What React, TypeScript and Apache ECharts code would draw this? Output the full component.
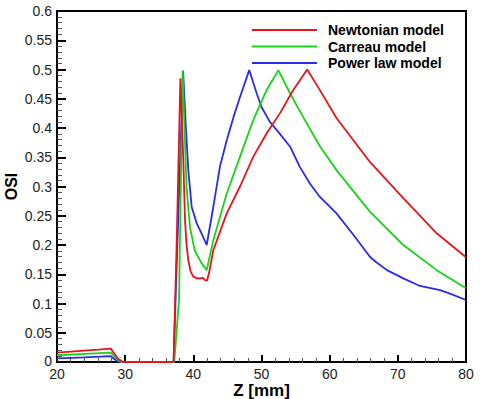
import React, { useEffect, useRef } from "react";
import * as echarts from "echarts";

const seriesNames = ["Newtonian model", "Carreau model", "Power law model"];
const seriesColors = ["#e8141b", "#18d418", "#2a2af0"];

const newtonian: [number, number][] = [
  [20, 0.016], [22, 0.0178], [24, 0.0195], [26, 0.021], [27.9, 0.023], [28.3, 0.016], [29, 0.005], [29.7, 0],
  [37.1, 0], [37.55, 0.2], [38.1, 0.485], [38.3, 0.42], [38.53, 0.345], [38.78, 0.243], [39.0, 0.2],
  [39.26, 0.174], [39.6, 0.155], [40, 0.146], [40.5, 0.143], [41, 0.143], [41.4, 0.144], [41.7, 0.14],
  [42.0, 0.139], [42.3, 0.152], [42.93, 0.191], [44.9, 0.254], [46.85, 0.3], [48.8, 0.351], [50.76, 0.391],
  [52.7, 0.425], [54.66, 0.465], [56.7, 0.5], [58.5, 0.466], [61, 0.417], [65.9, 0.342], [70.8, 0.28],
  [75.7, 0.22], [80, 0.179],
];

const carreau: [number, number][] = [
  [20, 0.0115], [24, 0.0138], [27.9, 0.016], [28.3, 0.011], [29, 0.003], [29.5, 0],
  [37.2, 0], [37.9, 0.106], [38.43, 0.498], [38.78, 0.374], [39.0, 0.3], [39.5, 0.231], [40.2, 0.191],
  [41.2, 0.169], [41.96, 0.157], [42.93, 0.208], [44.9, 0.288], [46.85, 0.351], [48.8, 0.414],
  [50.76, 0.465], [52.47, 0.499], [54.2, 0.459], [56.1, 0.419], [58.5, 0.37], [61, 0.328], [65.9, 0.257],
  [70.8, 0.2], [75.7, 0.157], [80, 0.126],
];

const powerLaw: [number, number][] = [
  [20, 0.0063], [24, 0.008], [27.9, 0.01], [28.3, 0.006], [28.9, 0.001], [29.3, 0],
  [37.1, 0], [37.4, 0.11], [38.5, 0.498], [38.9, 0.402], [39.26, 0.328], [39.76, 0.265], [40.5, 0.237],
  [41.2, 0.22], [41.96, 0.2], [42.93, 0.265], [43.9, 0.334], [44.9, 0.379], [45.9, 0.419], [46.85, 0.453],
  [48.2, 0.499], [49.3, 0.459], [50, 0.436], [51.25, 0.41], [52.7, 0.39], [54.2, 0.368], [55.6, 0.334],
  [57.1, 0.305], [58.5, 0.283], [61, 0.254], [63.5, 0.217], [65.9, 0.18], [66.8, 0.171], [68.4, 0.157],
  [70.8, 0.143], [73.25, 0.13], [76.2, 0.123], [77.65, 0.117], [80, 0.106],
];

const seriesData = [newtonian, carreau, powerLaw];

const FONT = "Liberation Sans, Arial, sans-serif";

export default function App() {
  const ref = useRef<HTMLDivElement>(null);
  useEffect(() => {
    if (!ref.current) return;
    const chart = echarts.init(ref.current, undefined, { renderer: "svg" });
    chart.setOption({
      animation: false,
      backgroundColor: "#fff",
      grid: {
        left: 57,
        right: 14,
        top: 11,
        bottom: 37,
        show: true,
        borderColor: "#000",
        borderWidth: 2,
        outerBoundsMode: "none",
        containLabel: false,
      },
      legend: {
        orient: "vertical",
        left: 247,
        top: 17,
        icon: "rect",
        itemWidth: 65,
        itemHeight: 2,
        itemGap: 0.5,
        selectedMode: false,
        data: seriesNames,
        textStyle: {
          fontFamily: FONT,
          fontSize: 14,
          lineHeight: 16,
          fontWeight: "bold",
          color: "#000",
          padding: [0, 0, 0, 6],
        },
      },
      xAxis: {
        type: "value",
        min: 20,
        max: 80,
        interval: 10,
        name: "Z [mm]",
        nameLocation: "middle",
        nameGap: 21,
        nameMoveOverlap: false,
        nameTextStyle: { fontFamily: FONT, fontSize: 17, lineHeight: 15, fontWeight: "bold", color: "#000" },
        axisLine: { show: true, lineStyle: { color: "#000", width: 2 } },
        axisTick: { show: true, inside: true, length: 7, lineStyle: { color: "#000", width: 2 } },
        minorTick: { show: true, splitNumber: 5, length: 4, lineStyle: { color: "#555", width: 1 } },
        splitLine: { show: false },
        axisLabel: { fontFamily: FONT, fontSize: 14, lineHeight: 12, color: "#222", margin: 6 },
      },
      yAxis: {
        type: "value",
        min: 0,
        max: 0.6,
        interval: 0.05,
        name: "OSI",
        nameLocation: "middle",
        nameGap: 38,
        nameMoveOverlap: false,
        nameTextStyle: { fontFamily: FONT, fontSize: 16, lineHeight: 16, fontWeight: "bold", color: "#000" },
        axisLine: { show: true, lineStyle: { color: "#000", width: 2 } },
        axisTick: { show: true, inside: true, length: 9, lineStyle: { color: "#000", width: 2 } },
        minorTick: { show: true, splitNumber: 5, length: 5, lineStyle: { color: "#555", width: 1 } },
        splitLine: { show: false },
        axisLabel: {
          fontFamily: FONT,
          fontSize: 14,
          lineHeight: 12,
          color: "#222",
          margin: 5,
          formatter: (v: number) => (v === 0 ? "{z|0}" : String(Math.round(v * 100) / 100)),
          rich: { z: { fontFamily: FONT, fontSize: 14, lineHeight: 10, color: "#222", padding: [0, 0, 2, 0] } },
        },
      },
      series: seriesNames.map((name, i) => ({
        name,
        type: "line",
        data: seriesData[i],
        symbol: "none",
        showSymbol: false,
        color: seriesColors[i],
        lineStyle: { color: seriesColors[i], width: 1.8 },
        z: 3 - i,
      })),
    });
    return () => chart.dispose();
  }, []);
  return <div ref={ref} style={{ position: "absolute", left: 0, top: 0, width: 480, height: 399 }} />;
}
